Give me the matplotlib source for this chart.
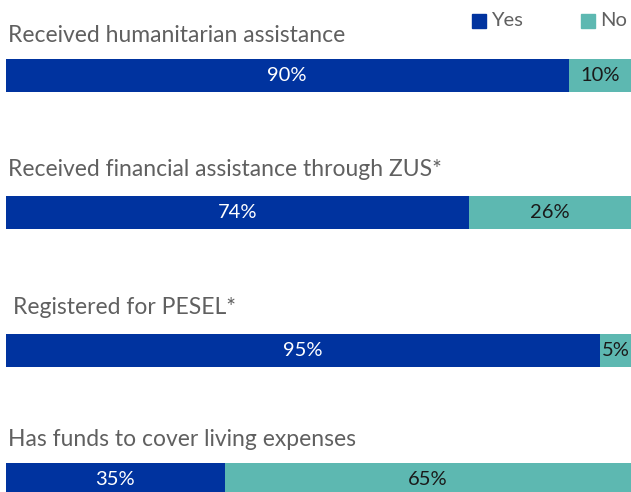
import matplotlib
matplotlib.use("Agg")
import matplotlib.pyplot as plt
from matplotlib.patches import Rectangle

questions = [
    "Received humanitarian assistance",
    "Received financial assistance through ZUS*",
    "Registered for PESEL*",
    "Has funds to cover living expenses",
]
yes_values = [90, 74, 95, 35]
no_values = [10, 26, 5, 65]
series_names = ["Yes", "No"]

YES_COLOR = "#00339F"
NO_COLOR = "#5DB8B1"
TITLE_COLOR = "#606060"

W, H = 631, 492
fig = plt.figure(figsize=(W / 100, H / 100), dpi=100)
ax = fig.add_axes([6 / W, 0, 625 / W, 1])
ax.set_xlim(0, 100)
ax.set_ylim(H, 0)
ax.axis("off")

bar_centers = [75.5, 212.5, 350.5, 479.5]
bar_height = 33
title_y = [35, 169, 307, 440]
title_x = [0.3, 0.3, 1.1, 0.3]

font = "Lato"

for i, q in enumerate(questions):
    yc = bar_centers[i]
    ax.barh(yc, yes_values[i], height=bar_height, color=YES_COLOR, left=0)
    ax.barh(yc, no_values[i], height=bar_height, color=NO_COLOR, left=yes_values[i])
    ax.text(yes_values[i] / 2, yc, f"{yes_values[i]}%", color="white",
            ha="center", va="center", fontsize=14.5, family=font)
    ax.text(yes_values[i] + no_values[i] / 2, yc, f"{no_values[i]}%", color="#1a1a1a",
            ha="center", va="center", fontsize=14.5, family=font)
    ax.text(title_x[i], title_y[i], q, color=TITLE_COLOR, ha="left", va="center",
            fontsize=16.5, family=font)

# legend built from patches in pixel space
legend_items = [(472, series_names[0], YES_COLOR), (581, series_names[1], NO_COLOR)]
for x0, name, col in legend_items:
    fig.patches.append(Rectangle((x0 / W, 1 - 28 / H), 14 / W, 14 / H,
                                 transform=fig.transFigure, color=col))
    fig.text((x0 + 19) / W, 1 - 21 / H, name, color=TITLE_COLOR, ha="left",
             va="center", fontsize=14.5, family=font)

fig.savefig("out.png", dpi=100)
